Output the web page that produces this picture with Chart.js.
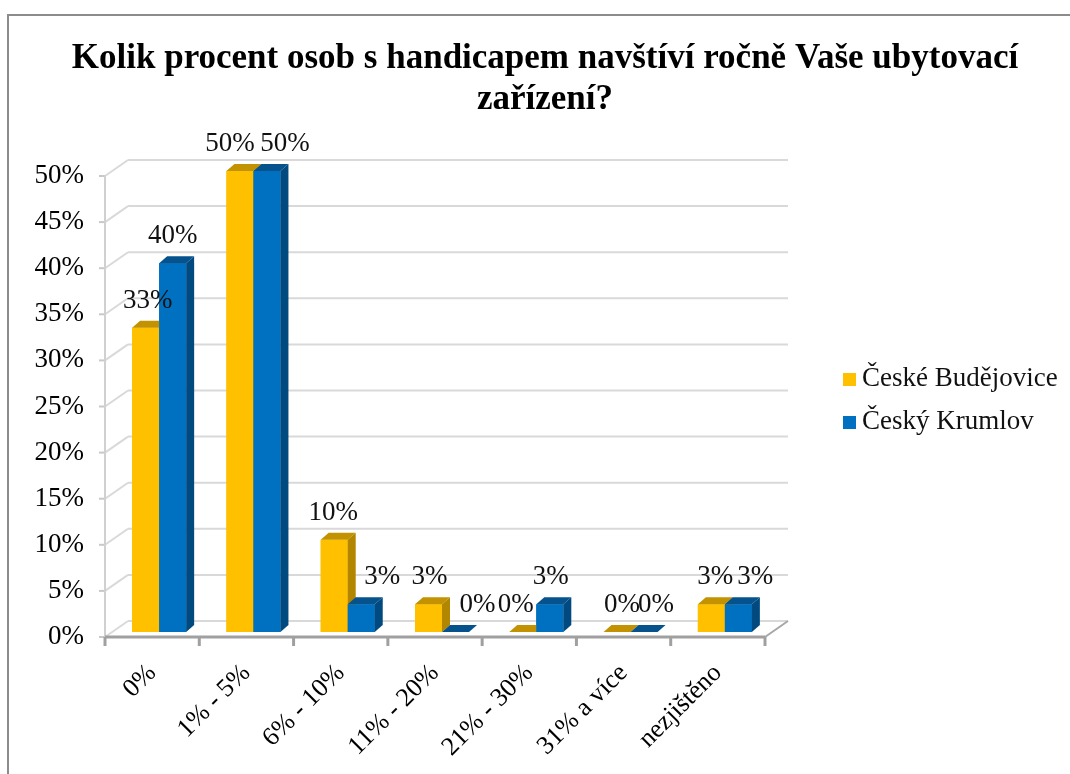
<!DOCTYPE html>
<html>
<head>
<meta charset="utf-8">
<script src="https://cdn.jsdelivr.net/npm/chart.js@4/dist/chart.umd.min.js"></script>
<style>
  html, body { margin: 0; padding: 0; background: #fff; }
</style>
</head>
<body>
<canvas id="myChart" width="1070" height="774"></canvas>
<script>
// data
const categories = ['0%', '1% - 5%', '6% - 10%', '11% - 20%', '21% - 30%', '31% a více', 'nezjištěno'];
const budejovice = [33, 50, 10, 3, 0, 0, 3];
const krumlov = [40, 50, 3, 0, 3, 0, 3];
const seriesNames = ['České Budějovice', 'Český Krumlov'];
const yTicks = [0, 5, 10, 15, 20, 25, 30, 35, 40, 45, 50];
const titleLines = ['Kolik procent osob s handicapem navštíví ročně Vaše ubytovací', 'zařízení?'];

// looks
const FONT = "'Liberation Serif', 'Times New Roman', serif";
const frontColors = ['#FFC000', '#0070C0'];
const topColors = ['#C29200', '#05528C'];
const sideColors = ['#B38600', '#004A80'];
const labelShift = [[2, -10, -1, 1, -7, 5, 4], [0, 18, 21, 22, 1, 12, 17]];
const BAR_DX = 8, BAR_DY = -7;       // depth of one bar
const FRONT = { dx: -7, dy: 5 };     // front plane vs bar plane
const BACK = { dx: 16, dy: -11 };    // back wall vs bar plane

const ctx = document.getElementById('myChart');

const box3d = (c, el, i) => {
  const l = el.x - el.width / 2, r = el.x + el.width / 2, t = el.y, b = el.base;
  c.fillStyle = frontColors[i];
  c.fillRect(l, t, r - l, b - t);
  c.fillStyle = topColors[i];
  c.beginPath();
  c.moveTo(l, t); c.lineTo(l + BAR_DX, t + BAR_DY); c.lineTo(r + BAR_DX, t + BAR_DY); c.lineTo(r, t);
  c.closePath(); c.fill();
  c.fillStyle = sideColors[i];
  c.beginPath();
  c.moveTo(r, t); c.lineTo(r + BAR_DX, t + BAR_DY); c.lineTo(r + BAR_DX, b + BAR_DY); c.lineTo(r, b);
  c.closePath(); c.fill();
};

const line = (c, x1, y1, x2, y2, color, w) => {
  c.strokeStyle = color; c.lineWidth = w;
  c.beginPath(); c.moveTo(x1, y1); c.lineTo(x2, y2); c.stroke();
};

const excel3d = {
  id: 'excel3d',
  beforeDatasetsDraw(chart) {
    const c = chart.ctx, a = chart.chartArea, y = chart.scales.y;
    c.save();
    // floor
    const y0 = y.getPixelForValue(0);
    c.fillStyle = '#ffffff';
    c.beginPath();
    c.moveTo(a.left + FRONT.dx, y0 + FRONT.dy);
    c.lineTo(a.right + FRONT.dx, y0 + FRONT.dy);
    c.lineTo(a.right + BACK.dx, y0 + BACK.dy);
    c.lineTo(a.left + BACK.dx, y0 + BACK.dy);
    c.closePath(); c.fill();
    // gridlines on back and side wall
    yTicks.forEach((v) => {
      const py = y.getPixelForValue(v);
      line(c, a.left + FRONT.dx, py + FRONT.dy, a.left + BACK.dx, py + BACK.dy, '#d9d9d9', 2);
      line(c, a.left + BACK.dx, py + BACK.dy, a.right + BACK.dx, py + BACK.dy, '#d9d9d9', 2);
      line(c, a.left + FRONT.dx - 6, py + FRONT.dy, a.left + FRONT.dx, py + FRONT.dy, '#c8c8c8', 2);
    });
    // y axis
    line(c, a.left + FRONT.dx, y.getPixelForValue(50) + FRONT.dy, a.left + FRONT.dx, y0 + FRONT.dy, '#d0d0d0', 2);
    // floor right edge
    line(c, a.right + FRONT.dx, y0 + FRONT.dy, a.right + BACK.dx, y0 + BACK.dy, '#a6a6a6', 2);
    c.restore();
  },
  afterDatasetsDraw(chart) {
    const c = chart.ctx, a = chart.chartArea, y = chart.scales.y;
    const metas = [chart.getDatasetMeta(0), chart.getDatasetMeta(1)];
    c.save();
    // bars with top and side faces, left to right
    categories.forEach((cat, j) => {
      metas.forEach((m, i) => box3d(c, m.data[j], i));
    });
    // x axis on front edge
    const y0 = y.getPixelForValue(0) + FRONT.dy;
    line(c, a.left + FRONT.dx, y0, a.right + FRONT.dx, y0, '#a0a0a0', 3);
    const step = (a.right - a.left) / categories.length;
    for (let k = 0; k <= categories.length; k++) {
      const px = a.left + FRONT.dx + k * step;
      line(c, px, y0, px, y0 + 9, '#a0a0a0', 3);
    }
    // value labels
    c.fillStyle = '#111';
    c.font = `27px ${FONT}`;
    c.textAlign = 'center';
    c.textBaseline = 'middle';
    metas.forEach((m, i) => {
      const vals = i === 0 ? budejovice : krumlov;
      m.data.forEach((el, j) => {
        c.fillText(vals[j] + '%', el.x + labelShift[i][j], el.y - 27);
      });
    });
    c.restore();
  },
  afterDraw(chart) {
    const c = chart.ctx, a = chart.chartArea, y = chart.scales.y, x = chart.scales.x;
    c.save();
    // frame
    line(c, 7, 15, 1070, 15, '#8c8c8c', 2);
    line(c, 8, 14, 8, 774, '#8c8c8c', 2);
    // title
    c.fillStyle = '#000';
    c.font = `bold 35px ${FONT}`;
    c.textAlign = 'center';
    c.textBaseline = 'middle';
    c.fillText(titleLines[0], 545, 59);
    c.fillText(titleLines[1], 545, 100);
    // y tick labels
    c.font = `27px ${FONT}`;
    c.textAlign = 'right';
    yTicks.forEach((v) => {
      c.fillText(v + '%', a.left + FRONT.dx - 21, y.getPixelForValue(v) + FRONT.dy);
    });
    // x tick labels, rotated
    c.font = `26px ${FONT}`;
    categories.forEach((cat, j) => {
      const px = x.getPixelForValue(j) + FRONT.dx;
      c.save();
      c.translate(px, y.getPixelForValue(0) + FRONT.dy + 32);
      c.rotate(-Math.PI / 4);
      c.textAlign = 'right';
      c.fillText(cat, 0, 0);
      c.restore();
    });
    // legend
    c.textAlign = 'left';
    c.font = `27px ${FONT}`;
    seriesNames.forEach((name, i) => {
      const ly = 379 + i * 43;
      c.fillStyle = frontColors[i];
      c.fillRect(843, ly - 6, 13, 13);
      c.fillStyle = '#111';
      c.fillText(name, 862, ly);
    });
    c.restore();
  }
};

Chart.defaults.font.family = FONT;

const config = {
  type: 'bar',
  data: {
    labels: categories,
    datasets: [
      { label: seriesNames[0], data: budejovice, backgroundColor: frontColors[0] },
      { label: seriesNames[1], data: krumlov, backgroundColor: frontColors[1] },
    ]
  },
  options: {
    responsive: false,
    animation: false,
    layout: { padding: { left: 112, right: 298, top: 171, bottom: 142 } },
    datasets: { bar: { categoryPercentage: 0.573, barPercentage: 1.0 } },
    scales: {
      x: { display: false },
      y: { display: false, min: 0, max: 50 },
    },
    plugins: {
      legend: { display: false },
      title: { display: false },
      tooltip: { enabled: false },
    },
  },
  plugins: [excel3d],
};

let myChart = new Chart(ctx, config);
</script>
</body>
</html>
